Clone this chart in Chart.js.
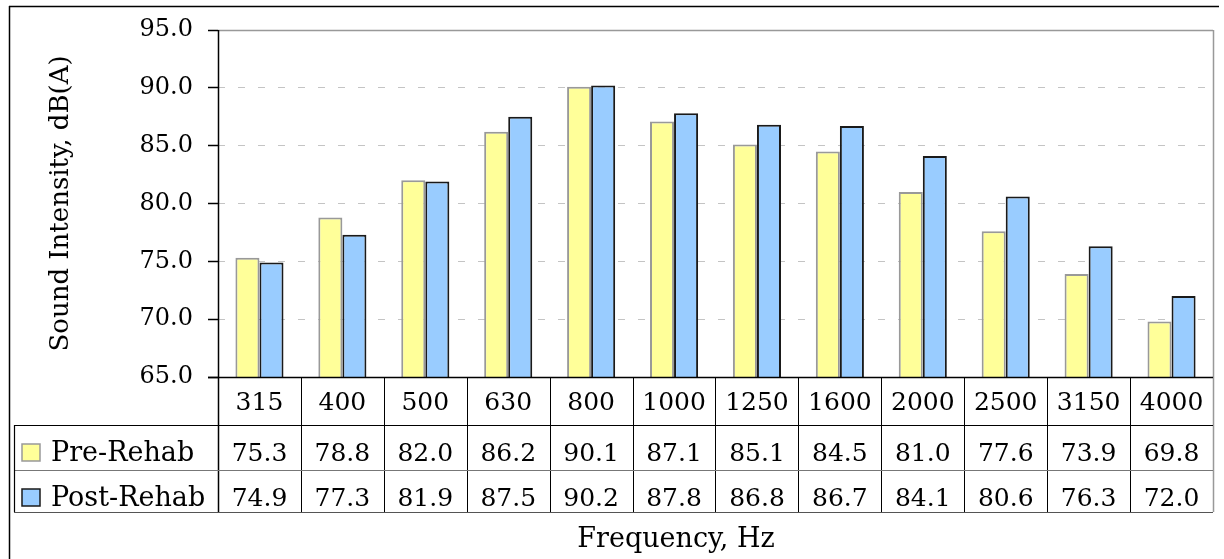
<!DOCTYPE html>
<html>
<head>
<meta charset="utf-8">
<script src="https://cdn.jsdelivr.net/npm/chart.js@4/dist/chart.umd.min.js"></script>
<style>
  html, body { margin: 0; padding: 0; background: #fff; }
</style>
</head>
<body>
<canvas id="c" width="1224" height="559"></canvas>
<script>
// data
const freqs = ['315', '400', '500', '630', '800', '1000', '1250', '1600', '2000', '2500', '3150', '4000']
const preRehab = [75.3, 78.8, 82.0, 86.2, 90.1, 87.1, 85.1, 84.5, 81.0, 77.6, 73.9, 69.8]
const postRehab = [74.9, 77.3, 81.9, 87.5, 90.2, 87.8, 86.8, 86.7, 84.1, 80.6, 76.3, 72.0]
const seriesNames = ['Pre-Rehab', 'Post-Rehab']
const yMin = 65, yMax = 95, yStep = 5
const yTitle = 'Sound Intensity, dB(A)'
const xTitle = 'Frequency, Hz'

const SERIF = '"DejaVu Serif", serif'
const preFill = '#ffff99', preLine = '#999999'
const postFill = '#99ccff', postLine = '#1a1a1a'

// data table under the plot + frames
const tablePlugin = {
  id: 'dataTable',
  afterDraw(chart) {
    const { ctx, chartArea: a, scales: { x } } = chart
    const step = x.getPixelForValue(1) - x.getPixelForValue(0)
    const hdrBot = a.bottom + 48, midLine = hdrBot + 45, tblBot = midLine + 42
    const tblLeft = 14

    const line = (x1, y1, x2, y2, col, w) => {
      ctx.beginPath()
      ctx.strokeStyle = col
      ctx.lineWidth = w
      ctx.moveTo(x1, y1); ctx.lineTo(x2, y2)
      ctx.stroke()
    }
    ctx.save()
    // outer frame
    line(9.5, 6, 9.5, 559, '#000', 1.5)
    line(9, 6.5, 1219, 6.5, '#000', 1.5)
    // plot frame
    line(a.left, a.top + 0.5, a.right, a.top + 0.5, '#999', 1.5)
    line(a.right + 0.5, a.top, a.right + 0.5, tblBot, '#999', 1.5)
    line(a.left + 0.5, a.top, a.left + 0.5, tblBot, '#000', 1.5)
    line(a.left - 10, a.bottom + 0.5, a.right, a.bottom + 0.5, '#000', 1.5)

    // column dividers
    for (let i = 1; i < freqs.length; i++) {
      const cx = Math.round(x.getPixelForValue(i) - step / 2) + 0.5
      line(cx, a.bottom, cx, tblBot, '#000', 1)
    }
    line(tblLeft, hdrBot + 0.5, a.right, hdrBot + 0.5, '#000', 1.2)
    line(tblLeft, midLine + 0.5, a.right, midLine + 0.5, '#777', 1.2)
    line(tblLeft, tblBot + 0.5, a.right, tblBot + 0.5, '#555', 1.2)
    line(tblLeft + 0.5, hdrBot, tblLeft + 0.5, tblBot, '#000', 1.2)

    ctx.fillStyle = '#000'
    ctx.font = '25px ' + SERIF
    ctx.textBaseline = 'alphabetic'
    ctx.textAlign = 'center'
    const rowsY = [461, 506]
    const rows = [preRehab, postRehab]
    freqs.forEach((f, i) => {
      const cx = x.getPixelForValue(i)
      ctx.fillText(f, cx, 410)
      rows.forEach((r, j) => ctx.fillText(r[i].toFixed(1), cx, rowsY[j]))
    })

    // legend keys
    const keys = [[preFill, preLine], [postFill, postLine]]
    ctx.font = '27px ' + SERIF
    ctx.textAlign = 'left'
    seriesNames.forEach((n, j) => {
      ctx.fillStyle = keys[j][0]
      ctx.fillRect(22, rowsY[j] - 17, 18, 17)
      ctx.strokeStyle = keys[j][1]
      ctx.lineWidth = 1.5
      ctx.strokeRect(22, rowsY[j] - 17, 18, 17)
      ctx.fillStyle = '#000'
      ctx.fillText(n, 51, rowsY[j])
    })

    ctx.textAlign = 'center'
    ctx.fillText(xTitle, 676, 547)
    ctx.restore()
  }
}

new Chart(document.getElementById('c'), {
  type: 'bar',
  data: {
    labels: freqs,
    datasets: [
      { label: seriesNames[0], data: preRehab, backgroundColor: preFill, borderColor: preLine, borderWidth: 2, borderSkipped: false },
      { label: seriesNames[1], data: postRehab, backgroundColor: postFill, borderColor: postLine, borderWidth: 2, borderSkipped: false }
    ]
  },
  options: {
    responsive: false,
    animation: false,
    devicePixelRatio: 1,
    layout: { padding: { left: 0, top: 30, right: 11, bottom: 182 } },
    datasets: { bar: { categoryPercentage: 0.58, barPercentage: 1.0 } },
    plugins: { legend: { display: false }, tooltip: { enabled: false } },
    scales: {
      x: {
        ticks: { display: false },
        grid: { display: false },
        border: { display: false },
        afterFit: s => { s.height = 0 }
      },
      y: {
        min: yMin, max: yMax,
        ticks: {
          stepSize: yStep, padding: 15, color: '#000',
          font: { family: SERIF, size: 24 },
          callback: v => Number(v).toFixed(1)
        },
        grid: { color: '#c4c4c4', tickColor: '#000', tickLength: 10, tickWidth: 1.5, tickBorderDash: [] },
        border: { display: false, dash: [7, 13] },
        title: {
          display: true, text: yTitle, color: '#000',
          font: { family: SERIF, size: 26 },
          padding: { top: 46, bottom: 0 }
        },
        afterFit: s => { s.width = 218 }
      }
    }
  },
  plugins: [tablePlugin]
})
</script>
</body>
</html>
